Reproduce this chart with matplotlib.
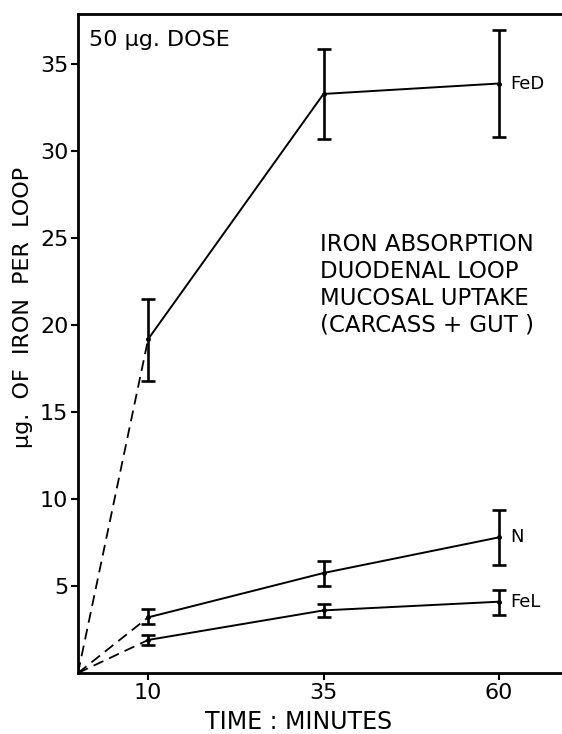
import matplotlib
matplotlib.use("Agg")
import matplotlib.pyplot as plt

times = [10, 35, 60]
fed = [19.2, 33.3, 33.9]
fed_lo = [16.8, 30.7, 30.8]
fed_hi = [21.5, 35.9, 37.0]
n_vals = [3.2, 5.75, 7.8]
n_lo = [2.8, 5.0, 6.2]
n_hi = [3.7, 6.45, 9.4]
fel = [1.9, 3.6, 4.1]
fel_lo = [1.6, 3.2, 3.35]
fel_hi = [2.2, 3.95, 4.8]
series_labels = ["FeD", "N", "FeL"]
yticks = [5, 10, 15, 20, 25, 30, 35]
xticks = [10, 35, 60]

plt.rcParams['font.family'] = ['DejaVu Sans']

fig = plt.figure(figsize=(5.62, 7.34), dpi=100)
ax = fig.add_axes([0.1388, 0.0831, 0.8612, 0.8979])
ax.set_xlim(0, 69)
ax.set_ylim(0, 37.9)

for vals, lo, hi, lab in [(fed, fed_lo, fed_hi, series_labels[0]),
                          (n_vals, n_lo, n_hi, series_labels[1]),
                          (fel, fel_lo, fel_hi, series_labels[2])]:
    ax.plot([0, times[0]], [0, vals[0]], color='black', lw=1.3, ls=(0, (6, 3.5)))
    ax.plot(times, vals, color='black', lw=1.4, marker='o', ms=2.5)
    yerr = [[v - l for v, l in zip(vals, lo)], [h - v for v, h in zip(vals, hi)]]
    ax.errorbar(times, vals, yerr=yerr, fmt='none', ecolor='black', elinewidth=1.9, capsize=5, capthick=1.9)
    ax.text(times[-1] + 1.6, vals[-1], lab, fontsize=13, va='center', ha='left')

ax.spines['right'].set_visible(False)
for s in ['left', 'bottom', 'top']:
    ax.spines[s].set_linewidth(2)
ax.set_yticks(yticks)
ax.set_xticks(xticks)
ax.tick_params(axis='both', direction='out', length=5, width=1.5, labelsize=16, pad=2)
ax.set_ylabel("µg.  OF  IRON  PER  LOOP", fontsize=16)
ax.yaxis.set_label_coords(-0.093, 0.555)
ax.set_xlabel("TIME : MINUTES", fontsize=17)
ax.xaxis.set_label_coords(0.455, -0.056)

ax.text(0.022, 0.975, "50 µg. DOSE", transform=ax.transAxes, fontsize=16, va='top', ha='left')
ax.text(0.50, 0.668, "IRON ABSORPTION\nDUODENAL LOOP\nMUCOSAL UPTAKE\n(CARCASS + GUT )",
        transform=ax.transAxes, fontsize=16.5, va='top', ha='left', linespacing=1.22)

fig.savefig("out.png", dpi=100)
